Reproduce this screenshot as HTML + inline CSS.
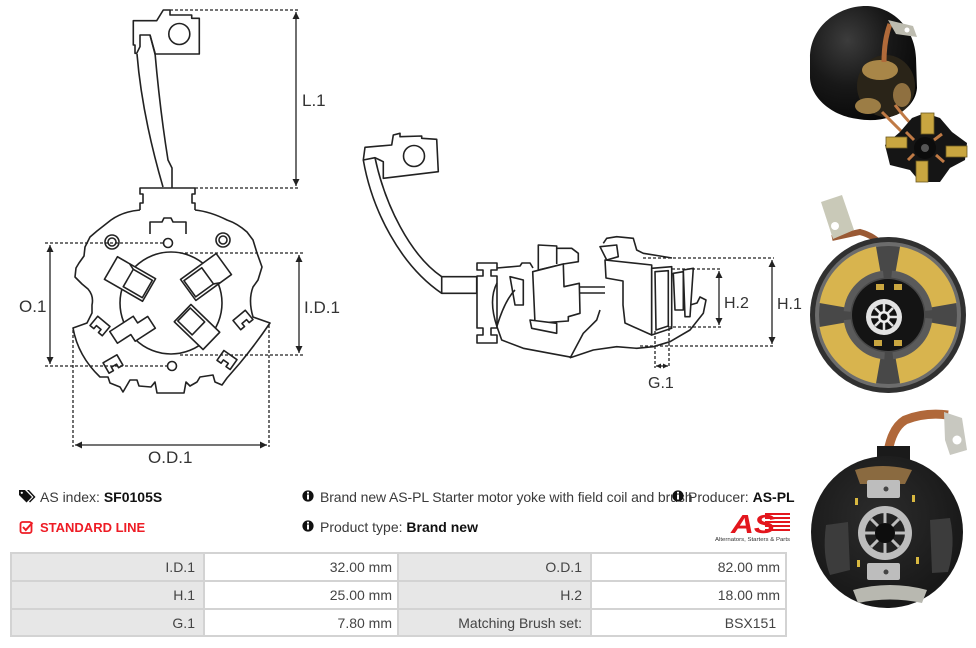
<!DOCTYPE html>
<html><head><meta charset="utf-8">
<style>
html,body{margin:0;padding:0;background:#fff;}
#root{position:relative;width:976px;height:648px;overflow:hidden;background:#fff;font-family:"Liberation Sans",Arial,sans-serif;color:#3a3a3a;}
.t{position:absolute;font-size:14px;white-space:nowrap;line-height:16px;}
.t b{color:#111;}
.grid{position:absolute;left:10px;top:552px;width:777px;height:85px;background:#d3d3d3;box-sizing:border-box;padding:2px;display:grid;grid-template-columns:191px 192px 191px 193px;grid-template-rows:26px 26px 25px;gap:2px;}
.c{background:#e7e7e7;text-align:right;padding-right:8px;font-size:14px;line-height:26px;color:#444;white-space:nowrap;}
.v{background:#fff;padding-right:5px;}
</style></head><body><div id="root">
<svg width="976" height="648" style="position:absolute;left:0;top:0" xmlns="http://www.w3.org/2000/svg">
<defs>
<marker id="ah" viewBox="0 0 10 10" refX="10" refY="5" markerWidth="8" markerHeight="7" markerUnits="userSpaceOnUse" orient="auto-start-reverse"><path d="M0,0 L10,5 L0,10 z" fill="#222"/></marker>
<marker id="ahs" viewBox="0 0 10 10" refX="10" refY="5" markerWidth="5" markerHeight="5" markerUnits="userSpaceOnUse" orient="auto-start-reverse"><path d="M0,0 L10,5 L0,10 z" fill="#222"/></marker>
<radialGradient id="cyl" cx="0.35" cy="0.3" r="0.8"><stop offset="0" stop-color="#3c3c3c"/><stop offset="0.5" stop-color="#181818"/><stop offset="1" stop-color="#060606"/></radialGradient>
<radialGradient id="p3" cx="0.45" cy="0.4" r="0.7"><stop offset="0" stop-color="#2c2c2c"/><stop offset="1" stop-color="#141414"/></radialGradient>
</defs>

<!-- LEFT DRAWING -->
<g fill="none" stroke="#222" stroke-width="1.6" stroke-linejoin="round">
<path d="M133.3,20.7 L156.7,20.7 L163.3,10 L170,10 L170,15 L191.7,15 L191.7,18.3 L199.3,18.3 L199.3,54 L155,54 L150,35 L140,35 L140,46.7 L136.7,53.3 L135,53.3 L135,45 L133.3,45 Z"/>
<circle cx="179.3" cy="34" r="10.5"/>
<path d="M137,54 Q142,115 163,187"/>
<path d="M150,35 L155,53 Q160,110 168,160 L172,168 L172,188"/>
<path d="M140,210 L140,203 L143,203 L143,194 L140,194 L140,188 L195,188 L195,194 L192,194 L192,203 L195,203 L195,210"/>
<path d="M140,210 C128,211 118,215 111,220 L97,231 L90,237 L85,247 L84,256 L79,263 L76,268 L75,277 L82,284 L88,289 Q94,296 92,305 L92,313 L87,323 L73,328 Q78,356 100,377 L108,377 L110,383 L120,387 L123,392 L130,380 L137,380 L139,386 L151,387 L155,382 L157,393 L184,393 L186,382 L190,386 L197,382 L200,377 L213,375 L215,382 L222,385 L227,378 L240,363 Q255,345 270,323 L253,317 Q248,300 253,287 L258,280 L262,267 L257,253 L253,240 L247,232 C238,224 230,221 227,220 C215,214 205,211 195,210"/>
<path d="M150,234 L150,222 L162,222 L164,218 L171,218 L173,222 L186,222 L186,234"/>
<circle cx="112" cy="242" r="7"/><circle cx="112" cy="242" r="4"/>
<circle cx="223" cy="240" r="7"/><circle cx="223" cy="240" r="4"/>
<circle cx="168" cy="243" r="4.5"/><circle cx="172" cy="366" r="4.5"/>
<circle cx="171" cy="303" r="51"/>
<g fill="#fff">
<g transform="translate(130,279) rotate(30)"><rect x="-22" y="-13" width="44" height="26"/><rect x="-2" y="-10" width="22" height="20"/><line x1="-2" y1="-10" x2="-8" y2="-13"/></g>
<g transform="translate(206,277) rotate(144)"><rect x="-22" y="-13" width="44" height="26"/><rect x="-2" y="-10" width="22" height="20"/><line x1="-2" y1="-10" x2="-8" y2="-13"/></g>
<g transform="translate(132,329) rotate(-33)"><path d="M-20,-10 L8,-10 L8,-2 L20,-2 L20,12 L-4,12 L-4,4 L-20,4 Z"/></g>
<g transform="translate(197,327) rotate(-136)"><rect x="-20" y="-12" width="40" height="24"/><rect x="-2" y="-9" width="20" height="18"/></g>
<g transform="translate(100,326) rotate(40)"><path d="M-8,-6 L8,-6 L8,6 L3,6 L3,2 L-3,2 L-3,6 L-8,6 Z"/></g>
<g transform="translate(243,320) rotate(-40)"><path d="M-8,-6 L8,-6 L8,6 L3,6 L3,2 L-3,2 L-3,6 L-8,6 Z"/></g>
<g transform="translate(113,364) rotate(-30)"><path d="M-8,-6 L8,-6 L8,6 L3,6 L3,2 L-3,2 L-3,6 L-8,6 Z"/></g>
<g transform="translate(227,360) rotate(35)"><path d="M-8,-6 L8,-6 L8,6 L3,6 L3,2 L-3,2 L-3,6 L-8,6 Z"/></g>
</g>
</g>
<!-- left dims -->
<g stroke="#222" stroke-width="1.3" fill="none">
<path d="M170,10 L300,10 M195,188 L300,188 M45,243 L165,243 M45,366 L168,366 M180,253 L303,253 M180,355 L303,355 M73,330 L73,447 M269,325 L269,447" stroke-dasharray="3,2"/>
<line x1="296" y1="12" x2="296" y2="186" marker-start="url(#ah)" marker-end="url(#ah)"/>
<line x1="50" y1="245" x2="50" y2="364" marker-start="url(#ah)" marker-end="url(#ah)"/>
<line x1="299" y1="255" x2="299" y2="353" marker-start="url(#ah)" marker-end="url(#ah)"/>
<line x1="75" y1="445" x2="267" y2="445" marker-start="url(#ah)" marker-end="url(#ah)"/>
</g>
<g font-family="Liberation Sans, Arial, sans-serif" font-size="17" fill="#333">
<text x="302" y="106">L.1</text>
<text x="19" y="312">O.1</text>
<text x="304" y="313">I.D.1</text>
<text x="148" y="463">O.D.1</text>
</g>

<!-- MIDDLE DRAWING -->
<g fill="none" stroke="#222" stroke-width="1.6" stroke-linejoin="round">
<path d="M365,147.3 L391.7,145 L393.3,135 L400,133.3 L400,136.7 L421.7,136 L421.7,138.3 L436.7,139.3 L438.3,171.7 L383.3,178.3 L383.3,161.7 L375,157.7 L363.3,160 Z"/>
<circle cx="414" cy="156" r="10.5"/>
<path d="M363.3,160 C372,210 400,265 441.7,293.3"/>
<path d="M375,157.7 C385,205 410,255 441.7,276.7"/>
<rect x="441.7" y="276.7" width="35" height="16.6"/>
<path d="M477,263 L497,263 L497,270 L491,270 L491,276 L497,276 L497,328 L491,328 L491,335 L497,335 L497,343 L477,343 L477,335 L483,335 L483,328 L477,328 L477,276 L483,276 L483,270 L477,270 Z"/>
<path d="M497,283 Q488,300 497,326.7 L501.7,340 L523.3,348.3 L550,353.3 L571.7,357.3 L593.3,350 L616.7,346.7 L636.7,348.3 L653.3,346.7 L670,341.7 L690,330 L703.3,313.3 L706,300 L700,297 L697,303 L690,305"/>
<path d="M497,268 L520,266 L522,263 L530,263 L533,268"/>
<path d="M510,276.7 L523.3,280 L523.3,305 L515,305 Z"/>
<path d="M497,326 Q505,300 515,290"/>
<path d="M579,287 L605,287 M579,293 L605,293"/>
<path d="M570,358.3 L583.3,333.3 L590,326.7 L596.7,320 L600,310"/>
<path d="M603.3,243.3 L606.7,238.3 L616.7,236.7 L633.3,238.3 L636.7,250 L643.3,253.3 L660,256 L672,258"/>
<g fill="#fff">
<path d="M538.3,270 L538.3,245 L556.7,246 L556.7,248.3 L571.7,248.3 L578.3,253.3 L578.3,261.7 L563.3,264 Z"/>
<path d="M556.7,248.3 L556.7,264"/>
<path d="M532.7,271.7 L563.3,264 L564,286.7 L579.3,283.3 L580,313.3 L568.3,316.7 L568.3,321 L535,323.3 Z"/>
<path d="M530,320 L556.7,323.3 L556.7,333.3 L531.7,328.3 Z"/>
<path d="M600,246.7 L616.7,245 L618.3,256.7 L606.7,260 Z"/>
<path d="M605,260 L651.7,265 L651.7,335 L625,323 L623,305 L623,281 L606,278 Z"/>
<path d="M673.3,273.3 L683.3,271.7 L683.3,310 L675,310 Z"/>
<path d="M683.3,270 L693.3,268.3 L690,316.7 L685,316.7 Z"/>
<path d="M651.7,268.3 L671.7,266.7 L671.7,328.3 L651.7,335 Z"/>
<path d="M655,271.7 L668.3,270.7 L668.3,326 L656,330 Z"/>
</g>
</g>
<g stroke="#222" stroke-width="1.3" fill="none">
<path d="M643,258 L774,258 M640,346 L774,346 M672,269 L721,269 M668,327 L721,327 M655,331 L655,368 M669,328 L669,368" stroke-dasharray="3,2"/>
<line x1="772" y1="260" x2="772" y2="344" marker-start="url(#ah)" marker-end="url(#ah)"/>
<line x1="719" y1="271" x2="719" y2="325" marker-start="url(#ah)" marker-end="url(#ah)"/>
<line x1="656" y1="366" x2="668" y2="366" marker-start="url(#ahs)" marker-end="url(#ahs)"/>
</g>
<g font-family="Liberation Sans, Arial, sans-serif" font-size="16" fill="#333">
<text x="724" y="308">H.2</text>
<text x="777" y="309">H.1</text>
<text x="648" y="388">G.1</text>
</g>

<!-- PHOTO 1 -->
<path d="M810,58 C810,25 840,5 868,6 C895,8 915,30 916,58 L917,88 C915,112 885,124 858,119 C832,116 811,98 810,78 Z" fill="url(#cyl)"/>
<ellipse cx="886" cy="86" rx="29" ry="31" fill="#2a2418"/>
<ellipse cx="880" cy="70" rx="18" ry="10" fill="#a88648"/>
<ellipse cx="868" cy="106" rx="13" ry="8" fill="#9c7d45"/>
<ellipse cx="902" cy="95" rx="9" ry="12" fill="#8f7040"/>
<path d="M884,62 Q884,40 890,24" stroke="#b06a3a" stroke-width="5" fill="none"/>
<path d="M888,20 L913,26 L917,37 L896,34 Z" fill="#bdbcb0"/>
<circle cx="907" cy="30" r="2.5" fill="#fff"/>
<path d="M882,112 Q895,125 905,135 M895,105 Q905,118 915,128" stroke="#c07a45" stroke-width="3" fill="none"/>
<g>
<path d="M925,113 L940,118 L952,132 L967,143 L965,160 L950,168 L940,182 L920,182 L910,170 L890,165 L885,145 L900,132 L912,118 Z" fill="#151515"/>
<rect x="921" y="113" width="13" height="21" fill="#c9a640" stroke="#6e5a20" stroke-width="0.8"/>
<rect x="886" y="137" width="21" height="11" fill="#c9a640" stroke="#6e5a20" stroke-width="0.8"/>
<rect x="946" y="146" width="21" height="11" fill="#c9a640" stroke="#6e5a20" stroke-width="0.8"/>
<rect x="916" y="161" width="12" height="21" fill="#c9a640" stroke="#6e5a20" stroke-width="0.8"/>
<circle cx="925" cy="148" r="11" fill="#0c0c0c"/>
<circle cx="925" cy="148" r="4" fill="#555"/>
<path d="M906,132 L914,140 M942,134 L934,140 M908,160 L914,154 M944,162 L936,155" stroke="#c07a45" stroke-width="3"/>
</g>

<!-- PHOTO 2 -->
<path d="M832,238 L860,232 Q875,236 882,246" stroke="#9a5a35" stroke-width="6" fill="none"/>
<path d="M821,202 L842,195 L854,230 L833,239 Z" fill="#c9c9b8"/>
<circle cx="835" cy="226" r="4" fill="#fff"/>
<circle cx="888" cy="315" r="78" fill="#303030"/>
<circle cx="888" cy="315" r="73" fill="#6c6c6c"/>
<circle cx="888" cy="315" r="69" fill="#484848"/>
<circle cx="888" cy="315" r="56" fill="none" stroke="#d8b44e" stroke-width="27" stroke-dasharray="68.4 19.5" stroke-dashoffset="78.2"/>
<circle cx="888" cy="315" r="41" fill="none" stroke="#5a5a5a" stroke-width="7" stroke-dasharray="56 8.4" stroke-dashoffset="61"/>
<circle cx="888" cy="315" r="36" fill="#141414"/>
<rect x="876" y="284" width="8" height="6" fill="#c9a640"/><rect x="894" y="284" width="8" height="6" fill="#c9a640"/>
<rect x="874" y="340" width="8" height="6" fill="#c9a640"/><rect x="894" y="340" width="8" height="6" fill="#c9a640"/>
<circle cx="884" cy="317" r="18" fill="#e2e2e2"/>
<circle cx="884" cy="317" r="13" fill="#111"/>
<path d="M884,304 L884,330 M871,317 L897,317 M875,308 L893,326 M893,308 L875,326" stroke="#e2e2e2" stroke-width="2.5"/>
<circle cx="884" cy="317" r="6" fill="#eee"/>
<circle cx="884" cy="317" r="3.5" fill="#111"/>

<!-- PHOTO 3 -->
<path d="M888,452 Q892,428 905,420 Q925,412 948,415" stroke="#b0683a" stroke-width="9" fill="none"/>
<path d="M944,412 L962,418 L967,450 L950,455 L945,440 Z" fill="#c8c8c0"/>
<circle cx="957" cy="440" r="4.5" fill="#fff"/>
<rect x="877" y="446" width="33" height="17" fill="#1a1a1a"/>
<circle cx="887" cy="532" r="76" fill="url(#p3)"/>
<path d="M855,470 Q882,462 912,470 L905,484 L860,484 Z" fill="#8a6a40"/>
<rect x="867" y="480" width="33" height="18" fill="#bdbdbd" rx="2"/>
<circle cx="886" cy="489" r="2.5" fill="#444"/>
<rect x="867" y="563" width="33" height="17" fill="#bdbdbd" rx="2"/>
<circle cx="886" cy="572" r="2.5" fill="#444"/>
<path d="M826,525 L848,522 L850,570 L830,575 Q822,555 826,525 Z" fill="#3c3c3c"/>
<path d="M930,520 L950,518 Q956,545 948,572 L932,573 Z" fill="#3c3c3c"/>
<path d="M853,590 Q890,580 927,590 L922,603 Q890,596 858,603 Z" fill="#b8b8b0"/>
<rect x="855" y="498" width="3" height="7" fill="#d8b840"/><rect x="912" y="495" width="3" height="7" fill="#d8b840"/>
<rect x="857" y="560" width="3" height="7" fill="#d8b840"/><rect x="916" y="557" width="3" height="7" fill="#d8b840"/>
<circle cx="885" cy="533" r="27" fill="#bdbdbd"/>
<circle cx="885" cy="533" r="20" fill="#222"/>
<path d="M885,513 L885,553 M865,533 L905,533 M871,519 L899,547 M899,519 L871,547" stroke="#bdbdbd" stroke-width="3"/>
<circle cx="885" cy="533" r="10" fill="#0d0d0d"/>

<!-- LOGO -->
<g fill="#e3161d">
<rect x="765" y="513" width="25" height="2"/>
<rect x="765" y="517" width="25" height="2"/>
<rect x="765" y="521" width="25" height="2"/>
<rect x="765" y="525" width="25" height="2"/>
<rect x="765" y="529" width="25" height="2"/>
<text x="731" y="533" font-family="Liberation Sans, Arial, sans-serif" font-size="26" font-weight="bold" font-style="italic" textLength="44" lengthAdjust="spacingAndGlyphs">AS</text>
</g>
<text x="715" y="541" font-family="Liberation Sans, Arial, sans-serif" font-size="5.5" fill="#333" textLength="75" lengthAdjust="spacingAndGlyphs">Alternators, Starters &amp; Parts</text>

<!-- ICONS -->
<g fill="#111">
<path d="M19,490 L25,490 L32,497 L26.5,502.5 L19,495 Z"/>
<path d="M27,490 L29,490 L35.5,497 L30,502.5 L29,501.5 L33.5,497 Z"/>
</g>
<circle cx="21.8" cy="492.8" r="1.1" fill="#fff"/>
<rect x="20.5" y="522" width="11" height="11" rx="2" fill="none" stroke="#ee1c25" stroke-width="1.8"/>
<path d="M23,527 L25.8,530 L32.5,522.5" fill="none" stroke="#ee1c25" stroke-width="2"/>
<g>
<circle cx="308" cy="496" r="5.6" fill="#111"/><rect x="307" y="494.5" width="2" height="5" fill="#fff"/><rect x="307" y="491.8" width="2" height="1.8" fill="#fff"/>
<circle cx="308" cy="526" r="5.6" fill="#111"/><rect x="307" y="524.5" width="2" height="5" fill="#fff"/><rect x="307" y="521.8" width="2" height="1.8" fill="#fff"/>
</g>
</svg>

<div class="t" style="left:40px;top:489px;">AS index: <b>SF0105S</b></div>
<div class="t" style="left:40px;top:520px;font-size:13px;font-weight:bold;color:#ee1c25;">STANDARD LINE</div>
<div class="t" style="left:320px;top:489px;letter-spacing:-0.1px;">Brand new AS-PL Starter motor yoke with field coil and brush</div>
<div class="t" style="left:320px;top:519px;">Product type: <b>Brand new</b></div>
<svg width="12" height="12" style="position:absolute;left:672px;top:490px" xmlns="http://www.w3.org/2000/svg"><circle cx="6" cy="6" r="5.6" fill="#111"/><rect x="5" y="4.5" width="2" height="5" fill="#fff"/><rect x="5" y="1.8" width="2" height="1.8" fill="#fff"/></svg>
<div class="t" style="left:688px;top:489px;">Producer: <b>AS-PL</b></div>

<div class="grid">
<div class="c">I.D.1</div><div class="c v">32.00 mm</div><div class="c">O.D.1</div><div class="c v">82.00 mm</div>
<div class="c">H.1</div><div class="c v">25.00 mm</div><div class="c">H.2</div><div class="c v">18.00 mm</div>
<div class="c">G.1</div><div class="c v">7.80 mm</div><div class="c">Matching Brush set:</div><div class="c v">BSX151&nbsp;</div>
</div>
</div></body></html>
